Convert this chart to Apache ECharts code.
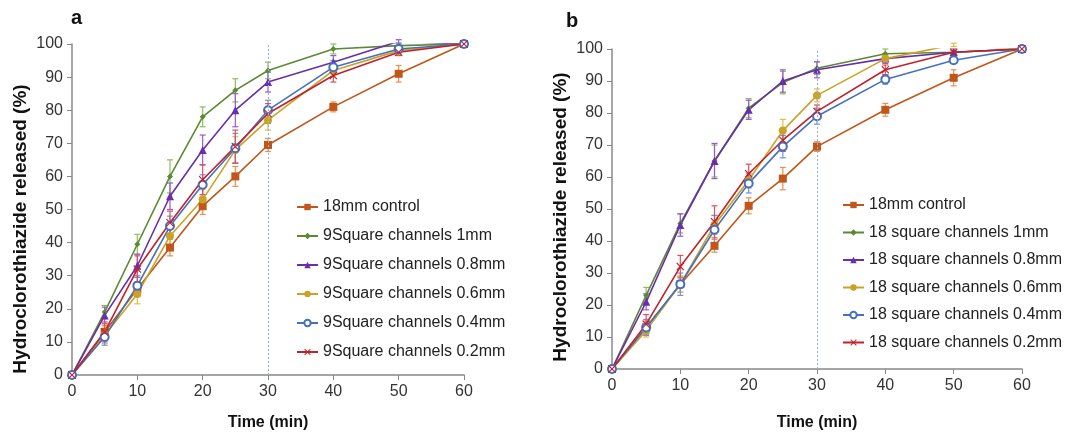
<!DOCTYPE html>
<html><head><meta charset="utf-8">
<script src="https://cdn.jsdelivr.net/npm/echarts@6/dist/echarts.min.js"></script>
<style>html,body{margin:0;padding:0;background:#fff}#c{width:1066px;height:436px}</style>
</head><body><div id="c"></div>
<script>
const times = [0,5,10,15,20,25,30,40,50,60];
const namesA = ['18mm control','9Square channels 1mm','9Square channels 0.8mm','9Square channels 0.6mm','9Square channels 0.4mm','9Square channels 0.2mm'];
const namesB = ['18mm control','18 square channels 1mm','18 square channels 0.8mm','18 square channels 0.6mm','18 square channels 0.4mm','18 square channels 0.2mm'];
const yTitle = 'Hydroclorothiazide released (%)';
const xTitle = 'Time (min)';
// panel a values
const aControl = [0,13,26,38.5,51,60,69.5,81,91,100];
const a1mm     = [0,19,39.5,60,78,86,92,98.5,99.5,100];
const a08mm    = [0,18,33,54,68,80,88.5,94.5,100.8,100];
const a06mm    = [0,12,24.5,42,53,68,77,92,98,100];
const a04mm    = [0,11.5,27,45,57.5,68.5,80,93,98.5,100];
const a02mm    = [0,13,32,46,59,69,79,90.5,97.5,100];
// panel a error (+/-)
const aControlErr = [0,2,2,2.5,2.5,3,2,1.5,2.5,0.5];
const a1mmErr     = [0,2,3,5,3,3.5,2.5,1.5,0.5,0.5];
const a08mmErr    = [0,2.5,3.5,4,4.5,5,3,2,0.5,0.5];
const a06mmErr    = [0,2.5,3,3,3,4,3,2,1,0.5];
const a04mmErr    = [0,2.5,3,3,3,4.5,3,2,1,0.5];
const a02mmErr    = [0,3,4,3.5,4.5,5,3,2,1,0.5];
// panel b values
const bControl = [0,13,26.5,38.5,51,59.5,69.5,81,91,100];
const b1mm     = [0,23,45.5,65,81.5,89.5,94,98.5,99,100];
const b08mm    = [0,21,45,65,81,90,93.5,97,99,100];
const b06mm    = [0,12,26.5,45,59,74.5,85.5,97,101.3,100];
const b04mm    = [0,13,26.5,43.5,58,69.5,79,90.5,96.5,100];
const b02mm    = [0,14,32,46,61,71.5,80.5,93.5,99,100];
// panel b error
const bControlErr = [0,2,2.5,2,2.5,3.5,1.5,2,2.5,0.5];
const b1mmErr     = [0,2.5,3,5,3,3.5,2,1.5,0.5,0.5];
const b08mmErr    = [0,2.5,3.5,5.5,3,3.5,2.5,1.5,0.5,0.5];
const b06mmErr    = [0,2,2.5,3,2.5,3.5,2,1,0.5,0.5];
const b04mmErr    = [0,2.5,3.5,4.5,3,3.5,2.5,1.5,1,0.5];
const b02mmErr    = [0,3,3.5,5,3,3.5,2,1.5,1,0.5];

const colors = ['#C0561A','#5B8A33','#6A2FA8','#C9A227','#4470C0','#C0222A'];
const errColors = ['#E8904F','#8DBE5A','#9A5AD0','#E0BE4A','#6E94E0','#E0505A'];
const crossPath = 'path://M1,0L5,4L9,0L10,1L6,5L10,9L9,10L5,6L1,10L0,9L4,5L0,1Z';
const symbols = ['rect','diamond','triangle','circle','emptyCircle',crossPath];
const symSizes = [8,6,8,8,8,8];

const valsA = [aControl,a1mm,a08mm,a06mm,a04mm,a02mm];
const errsA = [aControlErr,a1mmErr,a08mmErr,a06mmErr,a04mmErr,a02mmErr];
const valsB = [bControl,b1mm,b08mm,b06mm,b04mm,b02mm];
const errsB = [bControlErr,b1mmErr,b08mmErr,b06mmErr,b04mmErr,b02mmErr];

const FONT = 'Liberation Sans';
function xAx(gi,gap){return {type:'value',gridIndex:gi,min:0,max:60,interval:10,
  axisLine:{lineStyle:{color:'#888',width:1.5}},axisTick:{show:true,length:5,lineStyle:{color:'#888'}},
  axisLabel:{color:'#333',fontSize:16,fontFamily:FONT,margin:9},splitLine:{show:false},
  name:xTitle,nameLocation:'middle',nameGap:gap,nameTextStyle:{fontWeight:'bold',fontSize:16,color:'#111',fontFamily:FONT}};}
function yAx(gi){return {type:'value',gridIndex:gi,min:0,max:100,interval:10,
  axisLine:{show:true,lineStyle:{color:'#888',width:1.5}},axisTick:{show:true,length:5,lineStyle:{color:'#888'}},
  axisLabel:{color:'#333',fontSize:16,fontFamily:FONT,margin:9},splitLine:{show:false}};}

function errSeries(gi,vals,errs,ci){
  return {type:'custom',xAxisIndex:gi,yAxisIndex:gi,silent:true,z:1,
    data:times.map((t,i)=>[t,vals[i]-errs[i],vals[i]+errs[i]]),
    renderItem:function(params,api){
      const lo=api.coord([api.value(0),api.value(1)]);
      const hi=api.coord([api.value(0),api.value(2)]);
      const w=3;
      const st={stroke:errColors[ci],lineWidth:1.2};
      return {type:'group',children:[
        {type:'line',shape:{x1:lo[0],y1:lo[1],x2:hi[0],y2:hi[1]},style:st},
        {type:'line',shape:{x1:lo[0]-w,y1:lo[1],x2:lo[0]+w,y2:lo[1]},style:st},
        {type:'line',shape:{x1:hi[0]-w,y1:hi[1],x2:hi[0]+w,y2:hi[1]},style:st}]};
    }};
}
function lineSeries(gi,name,vals,ci){
  return {type:'line',name:name,xAxisIndex:gi,yAxisIndex:gi,clip:true,z:3,
    data:times.map((t,i)=>[t,vals[i]]),
    symbol:symbols[ci],symbolSize:symSizes[ci],showAllSymbol:true,
    lineStyle:{color:colors[ci],width:1.6},
    itemStyle:{color:colors[ci],borderWidth:ci===4?1.5:0}};
}
const series=[];
for(let i=0;i<6;i++){series.push(errSeries(0,valsA[i],errsA[i],i));}
for(let i=0;i<6;i++){series.push(errSeries(1,valsB[i],errsB[i],i));}
for(let i=0;i<6;i++){series.push(lineSeries(0,namesA[i]+(i===0?' ':''),valsA[i],i));}
for(let i=0;i<6;i++){series.push(lineSeries(1,namesB[i],valsB[i],i));}
series[12].markLine={silent:true,symbol:'none',label:{show:false},lineStyle:{color:'#8FB0E0',type:[2,2],width:1},data:[{xAxis:30}]};
series[18].markLine={silent:true,symbol:'none',label:{show:false},lineStyle:{color:'#8FB0E0',type:[2,2],width:1},data:[{xAxis:30}]};

const legendCommon={orient:'vertical',itemWidth:21,itemHeight:8,padding:0,
  textStyle:{fontSize:16,color:'#222',fontFamily:FONT},selectedMode:false};
const yTitleStyle={text:yTitle,fontSize:19,fontWeight:'bold',fill:'#111',fontFamily:FONT,textAlign:'center',textVerticalAlign:'middle'};
const chart=echarts.init(document.getElementById('c'),null,{renderer:'canvas'});
chart.setOption({
  animation:false,backgroundColor:'#fff',
  title:[{text:'a',left:66,top:3,textStyle:{fontSize:20,fontWeight:'bold',color:'#111',fontFamily:FONT}},
         {text:'b',left:561,top:6,textStyle:{fontSize:20,fontWeight:'bold',color:'#111',fontFamily:FONT}}],
  grid:[{left:72,top:44,width:392,height:333},{left:612,top:49,width:410,height:324}],
  xAxis:[xAx(0,40),xAx(1,46)],yAxis:[yAx(0),yAx(1)],
  graphic:[{type:'text',x:21,y:229,rotation:Math.PI/2,style:yTitleStyle},
           {type:'text',x:561,y:217,rotation:Math.PI/2,style:yTitleStyle}],
  legend:[Object.assign({left:296,top:199,itemGap:13,data:namesA.map((n,i)=>n+(i===0?' ':''))},legendCommon),
          Object.assign({left:842,top:197,itemGap:11.5,data:namesB},legendCommon)],
  series:series
});
</script></body></html>
